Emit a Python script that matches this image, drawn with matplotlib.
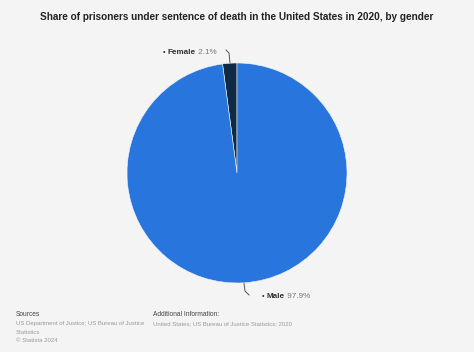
import matplotlib.pyplot as plt

plt.rcParams['font.family'] = ['Liberation Sans', 'DejaVu Sans']

# data
labels = ["Female", "Male"]
shares = [2.1, 97.9]
colors = ["#0f2a44", "#2876dd"]

bg = "#f4f4f4"
fig = plt.figure(figsize=(4.74, 3.52), dpi=100, facecolor=bg)

# pie centred at about (237, 173) px, radius ~110 px
ax = fig.add_axes([(237 - 110) / 474, 1 - (173 + 110) / 352, 220 / 474, 220 / 352])
ax.set_facecolor(bg)
ax.pie(shares, colors=colors, startangle=90, counterclock=True,
       wedgeprops=dict(linewidth=0.4, edgecolor="#f4f4f4"))
ax.set_xlim(-1, 1)
ax.set_ylim(-1, 1)
ax.set_aspect("equal")
ax.axis("off")


def px(x, y):
    return x / 474, 1 - y / 352


fig.text(*px(237, 17), "Share of prisoners under sentence of death in the United States in 2020, by gender",
         ha="center", va="center", fontsize=7.2, fontweight="bold", color="#222222")


def slice_label(x, y, name, value):
    t1 = fig.text(*px(x, y), "\u2022 ", ha="left", va="center", fontsize=5.3, color="#333333")
    a = ax.annotate(name, xy=(1, 0.5), xycoords=t1, va="center", ha="left",
                    fontsize=5.9, fontweight="bold", color="#333333")
    ax.annotate(f" {value}%", xy=(1, 0.5), xycoords=a, va="center", ha="left",
                fontsize=5.9, color="#777777")


slice_label(163, 52, labels[0], shares[0])
slice_label(262, 296, labels[1], shares[1])

fig.add_artist(plt.Line2D([226 / 474, 229 / 474, 230 / 474], [1 - 50 / 352, 1 - 53 / 352, 1 - 63 / 352],
                          color="#555555", lw=0.7, transform=fig.transFigure))
fig.add_artist(plt.Line2D([244 / 474, 245 / 474, 249 / 474], [1 - 283 / 352, 1 - 291 / 352, 1 - 295 / 352],
                          color="#555555", lw=0.7, transform=fig.transFigure))

# footer
fig.text(*px(16, 315), "Sources", fontsize=4.8, color="#444444", va="center")
fig.text(*px(16, 324), "US Department of Justice; US Bureau of Justice", fontsize=4.35, color="#999999", va="center")
fig.text(*px(16, 332), "Statistics", fontsize=4.35, color="#999999", va="center")
fig.text(*px(16, 341), "\u00a9 Statista 2024", fontsize=4.35, color="#999999", va="center")
fig.text(*px(153, 315), "Additional Information:", fontsize=4.8, color="#444444", va="center")
fig.text(*px(153, 324), "United States; US Bureau of Justice Statistics; 2020", fontsize=4.35, color="#999999", va="center")

fig.savefig("out.png", dpi=100, facecolor=bg)
